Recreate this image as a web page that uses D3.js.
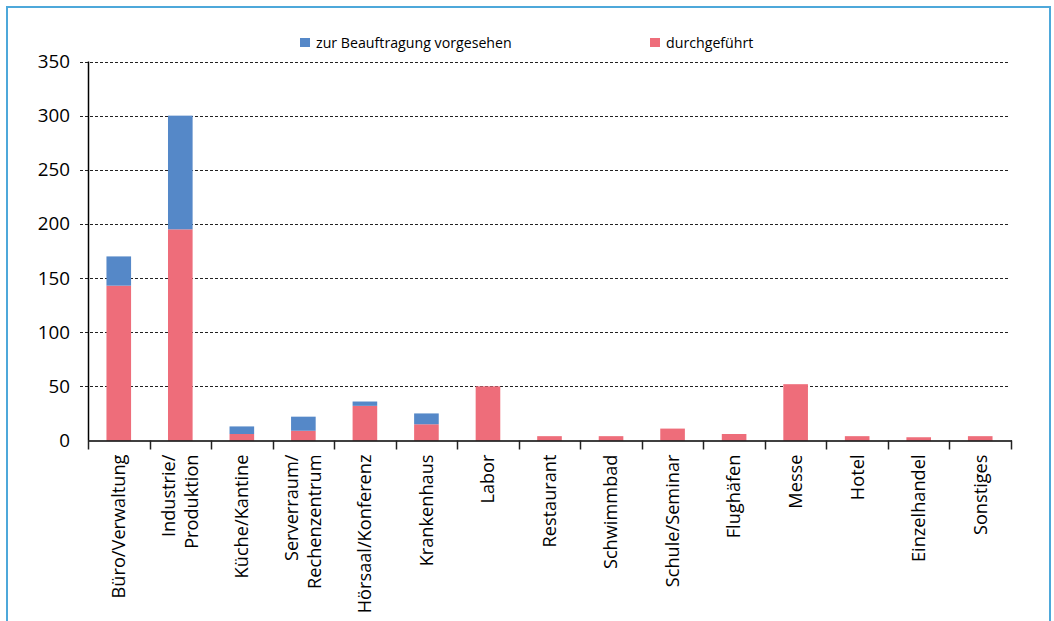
<!DOCTYPE html>
<html>
<head>
<meta charset="utf-8">
<script src="https://cdn.jsdelivr.net/npm/d3@7"></script>
<style>
  html, body { margin: 0; padding: 0; background: #fff; }
  svg { display: block; }
  text { font-family: "Open Sans", sans-serif; fill: #000; }
</style>
</head>
<body>
<svg id="chart" width="1054" height="621"></svg>
<script>
const categories = [
  ["Büro/Verwaltung"],
  ["Industrie/", "Produktion"],
  ["Küche/Kantine"],
  ["Serverraum/", "Rechenzentrum"],
  ["Hörsaal/Konferenz"],
  ["Krankenhaus"],
  ["Labor"],
  ["Restaurant"],
  ["Schwimmbad"],
  ["Schule/Seminar"],
  ["Flughäfen"],
  ["Messe"],
  ["Hotel"],
  ["Einzelhandel"],
  ["Sonstiges"]
];
const durchgefuehrt = [143, 195, 6, 9, 32, 15, 50, 4, 4, 11, 6, 52, 4, 3, 4];
const vorgesehen    = [27, 105, 7, 13, 4, 10, 0, 0, 0, 0, 0, 0, 0, 0, 0];
const seriesNames = ["zur Beauftragung vorgesehen", "durchgeführt"];
const seriesColors = ["#5588c8", "#ee6d7a"];
const yTicks = [0, 50, 100, 150, 200, 250, 300, 350];

const svg = d3.select("#chart");
const W = 1054, H = 621;
const m = { left: 88, right: 1054 - 1011, top: 61.5, bottom: 621 - 440.5 };

// frame
svg.append("rect").attr("x", 7).attr("y", 7).attr("width", 1043).attr("height", 640)
  .attr("fill", "#fff").attr("stroke", "#4ea8da").attr("stroke-width", 2);

const keys = categories.map((c, i) => i);
const x = d3.scaleBand().domain(keys).range([m.left, W - m.right]).paddingInner(0.6).paddingOuter(0.3);
const xb = d3.scaleBand().domain(keys).range([m.left, W - m.right]);
const y = d3.scaleLinear().domain([0, 350]).range([H - m.bottom, m.top]);

// gridlines
svg.append("g").selectAll("line").data(yTicks.filter(d => d > 0)).join("line")
  .attr("x1", m.left - 8).attr("x2", W - m.right - 1)
  .attr("y1", d => Math.round(y(d)) + 0.5).attr("y2", d => Math.round(y(d)) + 0.5)
  .attr("stroke", "#222").attr("stroke-width", 1).attr("stroke-dasharray", "3,2");

// stacked bars
const rows = keys.map(i => ({ i, d: durchgefuehrt[i], v: vorgesehen[i] }));
const stack = d3.stack().keys(["d", "v"])(rows);
const colorFor = { d: seriesColors[1], v: seriesColors[0] };
svg.append("g").selectAll("g").data(stack).join("g")
  .attr("fill", s => colorFor[s.key])
  .selectAll("rect").data(s => s.filter(p => p[1] - p[0] > 0)).join("rect")
  .attr("x", p => x(p.data.i))
  .attr("width", x.bandwidth())
  .attr("y", p => y(p[1]))
  .attr("height", p => y(p[0]) - y(p[1]));

// y axis
const yAxis = d3.axisLeft(y).tickValues(yTicks).tickSize(8).tickPadding(10);
const gy = svg.append("g").attr("transform", `translate(${m.left},0)`).call(yAxis);
gy.select(".domain").attr("stroke", "#000").attr("stroke-width", 1.5);
gy.selectAll(".tick line").attr("stroke", "none");
gy.selectAll(".tick text").style("font-family", "Open Sans, sans-serif").style("font-size", "18.8px").attr("fill", "#000");
gy.select(".domain").attr("d", `M0.5,${y(0)}V${y(350)}`);

// x axis
const xAxis = d3.axisBottom(xb).tickSize(0).tickFormat("");
const gx = svg.append("g").attr("transform", `translate(0,${y(0)})`).call(xAxis);
gx.select(".domain").attr("stroke", "#000").attr("stroke-width", 1.5).attr("d", `M${m.left},0.5H${W - m.right + 1}`);
gx.selectAll(".tick").remove();
const bounds = keys.map(i => xb(i)).concat([W - m.right]);
gx.selectAll("line.b").data(bounds).join("line").attr("class", "b")
  .attr("x1", d => Math.round(d) + 0.5).attr("x2", d => Math.round(d) + 0.5)
  .attr("y1", 0).attr("y2", 9).attr("stroke", "#222").attr("stroke-width", 1.5);

// x labels
const lab = svg.append("g").selectAll("text").data(keys).join("text")
  .attr("transform", i => `translate(${xb(i) + xb.bandwidth() / 2},${y(0) + 14}) rotate(-90)`)
  .attr("text-anchor", "end")
  .style("font-size", "18.2px");
lab.each(function(i) {
  const lines = categories[i];
  const t = d3.select(this);
  const lh = 1.27;
  lines.forEach((s, k) => {
    t.append("tspan").attr("x", 0)
      .attr("dy", k === 0 ? (0.35 - (lines.length - 1) * lh / 2) + "em" : lh + "em")
      .text(s);
  });
});

// legend
const legendX = [300, 650];
const leg = svg.append("g").selectAll("g").data(seriesNames).join("g")
  .attr("transform", (d, k) => `translate(${legendX[k]},38)`);
leg.append("rect").attr("width", 10).attr("height", 9).attr("fill", (d, k) => seriesColors[k]);
leg.append("text").attr("x", 16).attr("y", 9.5).style("font-size", "14.2px").text(d => d);
</script>
</body>
</html>
